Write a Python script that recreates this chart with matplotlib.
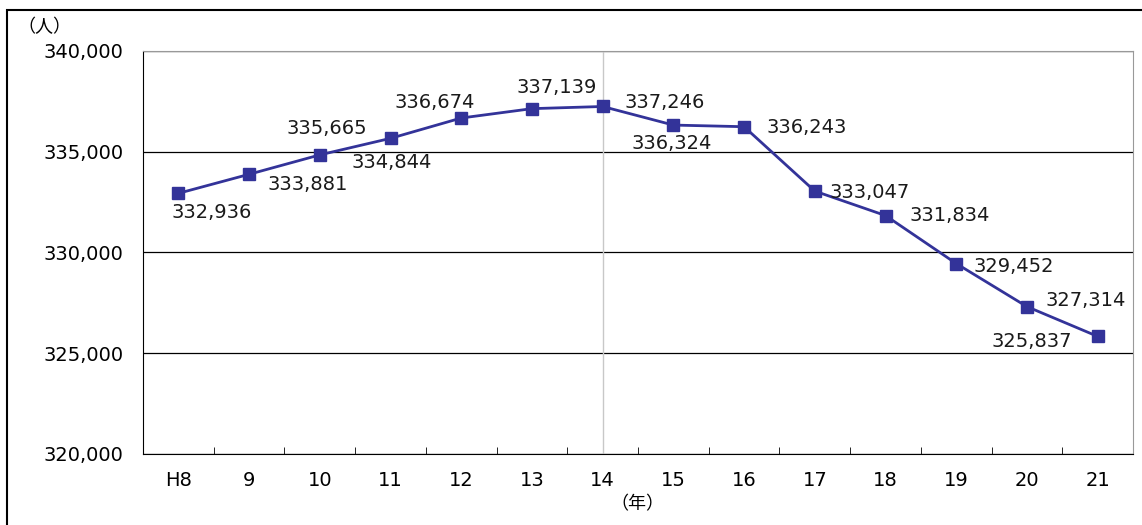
import matplotlib
matplotlib.use('Agg')
import matplotlib.pyplot as plt
from matplotlib.patches import Rectangle

plt.rcParams['font.family'] = ['DejaVu Sans', 'Noto Sans CJK JP']

years = ['H8', '9', '10', '11', '12', '13', '14', '15', '16', '17', '18', '19', '20', '21']
people = [332936, 333881, 334844, 335665, 336674, 337139, 337246,
          336324, 336243, 333047, 331834, 329452, 327314, 325837]

# label offsets in pixels (dx, dy), hand-placed like the original
label_offsets = [(33, -19), (59, -10), (72, -8), (-64, 10), (-27, 16), (25, 21), (62, 4),
                 (-2, -18), (63, -1), (55, -1), (64, 0), (58, -3), (59, 6), (-66, -5)]

fig = plt.figure(figsize=(11.42, 5.25), dpi=100)
ax = fig.add_axes([143 / 1142, 71 / 525, 990 / 1142, 403 / 525])

x = list(range(len(years)))
ax.plot(x, people, color='#333399', linewidth=2, marker='s', markersize=8, zorder=3)

for i, v in enumerate(people):
    dx, dy = label_offsets[i]
    ax.annotate(f'{v:,}', (i, v), xytext=(dx, dy), textcoords='offset pixels',
                ha='center', va='center', fontsize=14, color='#1a1a1a')

ax.axvline(6, color='#c8c8c8', linewidth=1, zorder=1)

ax.set_xlim(-0.5, len(years) - 0.5)
ax.set_ylim(320000, 340000)
ticks = [320000, 325000, 330000, 335000, 340000]
ax.set_yticks(ticks)
ax.set_yticklabels([f'{t:,}' for t in ticks], fontsize=14)
ax.set_xticks(x)
ax.set_xticklabels(years, fontsize=14)
ax.set_xticks([i + 0.5 for i in range(len(years) - 1)], minor=True)
ax.tick_params(axis='x', which='major', length=0, pad=12)
ax.tick_params(axis='x', which='minor', direction='in', length=5)
ax.tick_params(axis='y', length=0, pad=14)
ax.grid(axis='y', color='black', linewidth=0.9)
ax.set_axisbelow(True)

ax.spines['top'].set_color('#999999')
ax.spines['right'].set_color('#999999')
ax.spines['left'].set_color('black')
ax.spines['bottom'].set_color('black')

fig.text(44 / 1142, 1 - 27 / 525, '（人）', fontsize=13, ha='center', va='center',
         family=['Noto Sans CJK JP'])
fig.text(637 / 1142, 1 - 504 / 525, '（年）', fontsize=13, ha='center', va='center',
         family=['Noto Sans CJK JP'])

# outer frame
fig.patches.append(Rectangle((7 / 1142, -0.5), 2, 1.5 - 10 / 525, transform=fig.transFigure,
                             fill=False, edgecolor='black', linewidth=1.5))

fig.savefig('out.png', dpi=100)
